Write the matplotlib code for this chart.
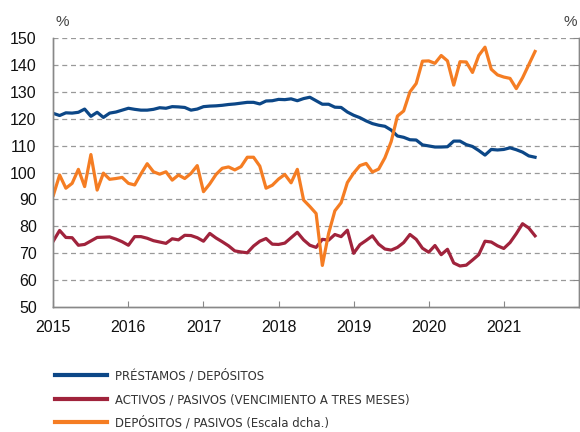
import numpy as np
import matplotlib.pyplot as plt
from matplotlib import font_manager

# monthly values, Jan 2015 - Jun 2021
prestamos_depositos = [
    122.0, 121.2, 122.2, 122.1, 122.4, 123.6, 120.9, 122.4, 120.5, 122.1, 122.5, 123.2,
    123.9, 123.5, 123.2, 123.2, 123.5, 124.1, 123.9, 124.5, 124.4, 124.2, 123.2, 123.6,
    124.5, 124.7, 124.8, 125.0, 125.3, 125.5, 125.8, 126.1, 126.1, 125.5, 126.6, 126.7,
    127.2, 127.1, 127.4, 126.7, 127.5, 128.0, 126.7, 125.4, 125.4, 124.3, 124.2, 122.5,
    121.3, 120.4, 119.2, 118.2, 117.6, 117.2, 115.8, 113.6, 113.1, 112.2, 112.1, 110.3,
    109.9, 109.5, 109.5, 109.6, 111.7, 111.7, 110.4, 109.7, 108.2, 106.5, 108.6, 108.4,
    108.6, 109.2, 108.5, 107.6, 106.2, 105.7,
]
activos_pasivos = [
    74.6, 78.5, 75.9, 75.8, 73.0, 73.3, 74.6, 75.9, 76.0, 76.1, 75.3, 74.3,
    73.0, 76.2, 76.2, 75.6, 74.7, 74.2, 73.7, 75.4, 75.0, 76.7, 76.6, 75.8,
    74.5, 77.4, 75.7, 74.3, 72.8, 70.9, 70.5, 70.2, 72.7, 74.5, 75.5, 73.4,
    73.3, 73.8, 75.8, 77.8, 75.0, 73.0, 72.2, 75.2, 74.9, 77.0, 76.2, 78.6,
    70.0, 73.2, 74.8, 76.5, 73.4, 71.6, 71.2, 72.2, 74.0, 77.0, 75.2, 71.9,
    70.4, 72.9, 69.5, 71.5, 66.4, 65.3, 65.6, 67.5, 69.5, 74.5, 74.2, 72.8,
    71.8, 74.0, 77.3, 81.0, 79.4, 76.5,
]
depositos_pasivos = [
    91.6, 99.1, 94.2, 96.0, 101.2, 94.8, 106.7, 93.5, 99.8, 97.5, 97.8, 98.2,
    96.0, 95.4, 99.5, 103.3, 100.3, 99.4, 100.3, 97.2, 99.1, 97.8, 99.7, 102.6,
    92.9, 95.8, 99.3, 101.6, 102.1, 101.0, 102.2, 105.7, 105.7, 102.4, 94.2, 95.3,
    97.6, 99.3, 96.2, 101.2, 89.8, 87.4, 84.8, 65.5, 77.4, 85.8, 88.8, 96.3,
    99.8, 102.6, 103.4, 100.2, 101.3, 105.5, 111.5, 121.0, 122.9, 130.0, 133.1, 141.4,
    141.5, 140.6, 143.5, 141.5, 132.5, 141.2, 141.1, 137.2, 143.5, 146.6, 138.4, 136.3,
    135.5, 135.0, 131.2, 135.2, 140.1, 145.0,
]
years = [2015, 2016, 2017, 2018, 2019, 2020, 2021]

fechas = 2015 + np.arange(len(prestamos_depositos)) / 12.0

plt.rcParams['font.family'] = ['Liberation Sans', 'DejaVu Sans']

# condensed face for the legend if the system has one
condensadas = [f for f in font_manager.fontManager.ttflist
               if f.stretch in ('condensed', 'semi-condensed', 'extra-condensed')
               and f.style == 'normal' and f.weight in (400, 'normal', 'regular')]
if condensadas:
    prop_leyenda = font_manager.FontProperties(fname=condensadas[0].fname, size=9.4)
else:
    prop_leyenda = font_manager.FontProperties(family='Liberation Sans', size=8.6)

fig = plt.figure(figsize=(5.8, 4.32), dpi=100)
ax = fig.add_axes([0.092, 0.289, 0.906, 0.623])
ax2 = ax.twinx()

gris = '#888888'
l1, = ax.plot(fechas, prestamos_depositos, color='#0c4787', lw=2.3,
              label='PRÉSTAMOS / DEPÓSITOS')
l2, = ax.plot(fechas, activos_pasivos, color='#a0233c', lw=2.3,
              label='ACTIVOS / PASIVOS (VENCIMIENTO A TRES MESES)')
l3, = ax2.plot(fechas, depositos_pasivos, color='#f57d23', lw=2.3,
               label='DEPÓSITOS / PASIVOS (Escala dcha.)')

for a in (ax, ax2):
    a.set_ylim(50, 150)
    a.set_xlim(2015, 2022)
    a.spines['top'].set_visible(False)
    for s in ('left', 'right', 'bottom'):
        a.spines[s].set_color(gris)
        a.spines[s].set_linewidth(1.0)

ax.set_yticks(np.arange(50, 151, 10))
ax.tick_params(axis='y', length=0, pad=12, labelsize=11.5, labelcolor='#111111')
ax.set_xticks(years)
ax.tick_params(axis='x', direction='in', length=4, color=gris, pad=9,
               labelsize=11.5, labelcolor='#111111')
for y in range(60, 151, 10):
    ax.axhline(y, color='#999999', lw=0.9, ls=(0, (4, 3)), zorder=0)

ax2.set_yticks(np.arange(50, 151, 10))
ax2.tick_params(axis='y', direction='in', length=4, color=gris, labelright=False)

fig.text(0.095, 0.94, '%', fontsize=11, color='#444444')
fig.text(0.972, 0.94, '%', fontsize=11, color='#444444')

leg = fig.legend(handles=[l1, l2, l3], loc='upper left', bbox_to_anchor=(0.095, 0.145),
                 frameon=False, handlelength=4.0, handletextpad=0.55, labelspacing=0.79,
                 borderpad=0, borderaxespad=0, prop=prop_leyenda, labelcolor='#333333')
for h in leg.legend_handles:
    h.set_linewidth(3.0)

fig.savefig('out.png', dpi=100)
